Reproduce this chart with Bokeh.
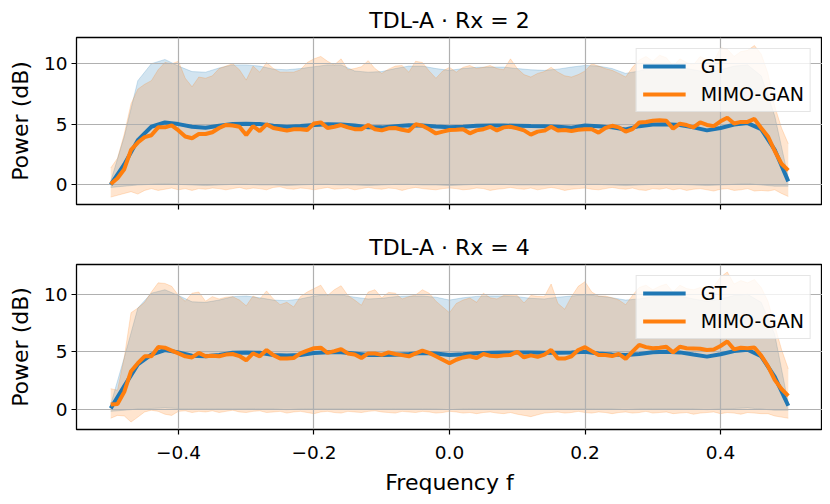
from bokeh.plotting import figure
from bokeh.layouts import column
from bokeh.models import Range1d, FixedTicker, CustomJSTickFormatter
from bokeh.embed import file_html
from bokeh.resources import INLINE

# ---------------- data ----------------
freq_fine = [round(-0.50 + 0.01 * i, 2) for i in range(101)]
freq_coarse = [round(-0.50 + 0.02 * i, 2) for i in range(51)]

titles = ["TDL-A · Rx = 2", "TDL-A · Rx = 4"]

# Rx = 2
gt_mean_rx2 = [0.03, 1.7, 3.7, 4.8, 5.16, 5.02, 4.8, 4.72, 4.88, 5.02,
               5.05, 5.02, 4.88, 4.81, 4.86, 4.95, 5.0, 4.98, 4.9, 4.76,
               4.75, 4.85, 4.92, 4.9, 4.82, 4.76, 4.8, 4.88, 4.9, 4.9,
               4.88, 4.86, 4.85, 4.8, 4.72, 4.9, 4.85, 4.75, 4.58, 4.85,
               4.98, 5.0, 4.95, 4.75, 4.5, 4.7, 4.98, 5.1, 4.6, 2.9, 0.3]
gt_upper_rx2 = [0.3, 4.0, 8.6, 10.0, 10.35, 9.8, 9.35, 9.3, 9.65, 9.9,
                9.9, 9.8, 9.55, 9.5, 9.6, 9.75, 9.9, 9.9, 9.4, 9.3,
                9.35, 9.6, 9.8, 9.8, 9.6, 9.45, 9.6, 9.7, 9.72, 9.72,
                9.6, 9.5, 9.45, 9.55, 9.72, 9.86, 9.8, 9.6, 9.2, 9.4,
                9.7, 9.8, 9.7, 9.5, 9.3, 9.5, 9.8, 9.9, 9.0, 5.7, 0.6]
gt_lower_rx2 = [-0.2, -0.1, 0.0, 0.05, 0.1, 0.05, 0.0, -0.05, 0.0, 0.05,
                0.05, 0.0, 0.0, -0.05, 0.0, 0.05, 0.05, 0.0, 0.0, -0.05,
                0.0, 0.05, 0.05, 0.0, 0.0, -0.05, 0.0, 0.05, 0.05, 0.05,
                0.0, 0.0, 0.0, 0.05, 0.0, 0.05, 0.05, 0.0, -0.05, 0.0,
                0.05, 0.05, 0.05, 0.0, -0.05, 0.0, 0.05, 0.1, 0.0, -0.1, -0.1]
gan_mean_rx2 = [0.08, 0.55, 1.3, 2.9, 3.5, 3.95, 4.1, 4.75, 4.75, 4.92,
                4.5, 4.0, 3.85, 4.2, 4.2, 4.35, 4.7, 4.95, 4.9, 4.8,
                4.12, 4.85, 4.45, 5.0, 4.7, 4.6, 4.48, 4.6, 4.6, 4.53,
                5.07, 5.16, 4.7, 4.8, 4.94, 4.75, 4.6, 4.6, 4.94, 4.6,
                4.5, 4.67, 4.7, 4.55, 4.45, 5.0, 4.89, 4.6, 4.25, 4.4,
                4.53, 4.55, 4.6, 4.26, 4.5, 4.6, 4.8, 4.5, 4.75, 4.8,
                4.67, 4.5, 4.15, 4.4, 4.48, 4.8, 4.5, 4.53, 4.45, 4.55,
                4.59, 4.59, 4.32, 4.7, 4.88, 4.75, 4.4, 4.6, 5.15, 5.2,
                5.29, 5.33, 5.3, 4.65, 5.05, 4.94, 4.75, 5.16, 4.95, 4.85,
                5.25, 5.54, 5.07, 5.2, 5.2, 5.45, 4.7, 4.0, 2.8, 1.75, 1.2]
gan_upper_rx2 = [1.4, 2.2, 4.2, 6.7, 7.9, 8.3, 8.6, 9.5, 10.1, 10.0,
                 10.2, 8.8, 8.1, 8.9, 8.8, 9.0, 9.6, 9.8, 10.0, 9.5,
                 8.65, 9.8, 9.3, 10.1, 9.6, 9.3, 9.3, 9.3, 9.5, 10.1,
                 10.4, 10.6, 10.2, 9.9, 10.4, 9.5, 9.6, 9.75, 10.25, 9.6,
                 9.2, 9.55, 9.8, 9.85, 9.3, 10.2, 10.1, 9.4, 8.8, 9.4,
                 9.7, 9.3, 9.7, 9.85, 9.6, 9.7, 9.85, 9.6, 9.5, 10.4,
                 9.6, 9.1, 8.9, 9.2, 9.35, 9.7, 9.3, 9.0, 8.9, 9.1,
                 9.4, 10.0, 9.8, 9.6, 9.45, 9.2, 8.9, 9.7, 10.3, 10.6,
                 10.2, 10.7, 10.5, 9.8, 10.4, 10.1, 9.9, 10.6, 10.3, 10.2,
                 11.3, 11.2, 10.6, 11.0, 11.1, 11.5, 10.8, 9.2, 6.5, 4.7, 3.4]
gan_lower_rx2 = [-1.0, -0.85, -0.7, -0.55, -0.75, -0.45, -0.3, -0.45, -0.35, -0.25,
                 -0.4, -0.3, -0.45, -0.3, -0.35, -0.25, -0.3, -0.4, -0.3, -0.2,
                 -0.35, -0.25, -0.3, -0.4, -0.2, -0.15, -0.3, -0.35, -0.25, -0.3,
                 -0.4, -0.3, -0.2, -0.35, -0.3, -0.25, -0.4, -0.3, -0.2, -0.3,
                 -0.35, -0.25, -0.3, -0.45, -0.3, -0.2, -0.3, -0.35, -0.4, -0.3,
                 -0.25, -0.3, -0.4, -0.35, -0.25, -0.3, -0.45, -0.35, -0.3, -0.2,
                 -0.3, -0.35, -0.25, -0.4, -0.3, -0.2, -0.3, -0.45, -0.35, -0.3,
                 -0.25, -0.35, -0.4, -0.3, -0.2, -0.3, -0.35, -0.25, -0.4, -0.45,
                 -0.3, -0.35, -0.25, -0.4, -0.3, -0.45, -0.35, -0.3, -0.4, -0.5,
                 -0.35, -0.3, -0.45, -0.4, -0.3, -0.5, -0.45, -0.5, -0.4, -0.7, -0.95]

# Rx = 4
gt_mean_rx4 = [0.06, 2.0, 3.9, 4.75, 5.15, 4.94, 4.65, 4.6, 4.72, 4.9,
               4.94, 4.9, 4.72, 4.66, 4.72, 4.88, 4.96, 4.95, 4.85, 4.72,
               4.72, 4.74, 4.8, 4.88, 4.85, 4.71, 4.78, 4.86, 4.9, 4.92,
               4.94, 4.92, 4.9, 4.9, 4.93, 5.0, 4.85, 4.76, 4.72, 4.8,
               4.95, 5.0, 4.94, 4.75, 4.57, 4.78, 5.05, 5.17, 4.6, 2.8, 0.29]
gt_upper_rx4 = [0.4, 4.5, 8.8, 10.1, 10.4, 9.9, 9.35, 9.3, 9.5, 9.8,
                9.85, 9.7, 9.5, 9.45, 9.6, 9.85, 9.97, 9.95, 9.75, 9.6,
                9.65, 9.8, 9.85, 9.85, 9.75, 9.5, 9.7, 9.82, 9.85, 9.85,
                9.8, 9.65, 9.6, 9.75, 9.85, 9.97, 9.85, 9.7, 9.5, 9.6,
                9.8, 9.9, 9.85, 9.6, 9.4, 9.6, 9.9, 10.0, 9.3, 6.5, 0.5]
gt_lower_rx4 = [-0.2, -0.1, 0.0, 0.05, 0.1, 0.05, 0.0, 0.0, 0.05, 0.05,
                0.05, 0.0, 0.0, -0.05, 0.0, 0.05, 0.05, 0.05, 0.0, 0.0,
                0.0, 0.05, 0.05, 0.05, 0.0, -0.05, 0.0, 0.05, 0.05, 0.05,
                0.05, 0.0, 0.0, 0.05, 0.05, 0.05, 0.0, 0.0, -0.05, 0.0,
                0.05, 0.05, 0.05, 0.0, -0.05, 0.0, 0.05, 0.1, 0.0, -0.1, -0.1]
gan_mean_rx4 = [0.4, 0.45, 1.5, 3.3, 4.0, 4.6, 4.6, 5.4, 5.35, 5.1,
                4.85, 4.6, 4.5, 4.9, 4.6, 4.65, 4.6, 4.75, 4.8, 4.62,
                4.25, 4.85, 4.6, 5.15, 4.7, 4.4, 4.4, 4.45, 4.85, 5.1,
                5.3, 5.35, 4.9, 5.05, 5.23, 4.85, 4.75, 4.45, 4.85, 4.85,
                4.72, 4.94, 4.8, 4.7, 4.6, 4.85, 5.09, 4.9, 4.6, 4.3,
                3.99, 4.3, 4.5, 4.6, 4.45, 4.8, 4.65, 4.6, 4.68, 4.72,
                5.0, 4.5, 4.68, 4.55, 4.75, 5.15, 4.4, 4.4, 4.6, 5.15,
                5.4, 5.05, 4.71, 4.71, 4.62, 4.8, 4.37, 5.0, 5.6, 5.4,
                5.3, 5.35, 5.43, 4.94, 5.43, 5.3, 5.29, 5.25, 5.15, 5.2,
                5.5, 5.89, 5.2, 5.35, 5.3, 5.37, 4.66, 3.75, 2.55, 1.75, 1.15]
gan_upper_rx4 = [1.78, 1.64, 4.5, 8.4, 8.8, 9.3, 10.2, 11.0, 10.95, 10.7,
                 9.9, 9.4, 10.1, 10.2, 9.4, 9.8, 9.6, 9.75, 9.8, 9.5,
                 9.0, 9.85, 9.6, 10.3, 9.6, 9.1, 9.3, 8.9, 9.8, 10.2,
                 10.5, 10.8, 9.9, 10.4, 10.75, 9.9, 9.5, 9.05, 10.2, 10.4,
                 9.7, 10.17, 10.1, 9.6, 9.8, 9.95, 10.4, 10.1, 9.4, 8.9,
                 8.4, 9.2, 9.5, 9.68, 9.3, 10.1, 9.7, 9.6, 9.9, 9.95,
                 9.9, 9.25, 9.9, 9.83, 9.8, 10.9, 9.2, 8.7, 9.8, 10.7,
                 11.1, 10.2, 9.85, 9.85, 9.7, 9.5, 9.1, 9.9, 10.6, 10.8,
                 10.4, 10.7, 10.9, 10.2, 10.8, 10.5, 10.4, 10.6, 10.4, 10.7,
                 11.5, 11.95, 10.9, 11.2, 11.0, 11.3, 10.6, 9.4, 7.3, 5.2, 3.5]
gan_lower_rx4 = [-0.8, -0.55, -0.6, -1.13, -0.7, -0.25, -0.1, -0.2, -0.45, -0.55,
                 -0.2, -0.15, -0.3, -0.2, -0.25, -0.15, -0.3, -0.2, -0.1, -0.25,
                 -0.3, -0.2, -0.15, -0.3, -0.25, -0.2, -0.35, -0.25, -0.2, -0.3,
                 -0.4, -0.25, -0.2, -0.3, -0.35, -0.2, -0.25, -0.3, -0.2, -0.15,
                 -0.25, -0.3, -0.35, -0.2, -0.25, -0.3, -0.2, -0.25, -0.35, -0.3,
                 -0.2, -0.25, -0.35, -0.3, -0.4, -0.3, -0.25, -0.35, -0.4, -0.3,
                 -0.45, -0.55, -0.66, -0.5, -0.35, -0.3, -0.25, -0.35, -0.3, -0.2,
                 -0.3, -0.35, -0.25, -0.3, -0.4, -0.3, -0.25, -0.35, -0.3, -0.2,
                 -0.35, -0.3, -0.25, -0.4, -0.35, -0.3, -0.45, -0.35, -0.3, -0.25,
                 -0.4, -0.3, -0.35, -0.45, -0.3, -0.35, -0.4, -0.4, -0.6, -0.7, -0.8]

y_ticks = [0, 5, 10]
x_ticks = [-0.4, -0.2, 0.0, 0.2, 0.4]

BLUE = "#1f77b4"
ORANGE = "#ff7f0e"
FONT = "DejaVu Sans"

x_range = Range1d(-0.5505, 0.5505)


def make_panel(title, gt_m, gt_u, gt_l, gan_m, gan_u, gan_l, yr, height,
               border_top, border_bottom, show_xlabels):
    p = figure(width=822, height=height, x_range=x_range, y_range=Range1d(*yr),
               output_backend="svg", toolbar_location=None,
               min_border_left=76, min_border_right=0,
               min_border_top=border_top, min_border_bottom=border_bottom,
               title=title)
    p.title.text_font = FONT
    p.title.text_font_size = "22px"
    p.title.text_font_style = "normal"
    p.title.align = "center"
    p.title.text_color = "black"
    p.title.standoff = 10

    # bands
    r = p.varea(x=freq_coarse, y1=gt_l, y2=gt_u, fill_color=BLUE, fill_alpha=0.2)
    r.level = "image"
    for yy in (gt_u, gt_l):
        r = p.line(freq_coarse, yy, line_color=BLUE, line_alpha=0.2, line_width=1)
        r.level = "image"
    r = p.varea(x=freq_fine, y1=gan_l, y2=gan_u, fill_color=ORANGE, fill_alpha=0.2)
    r.level = "image"
    for yy in (gan_u, gan_l):
        r = p.line(freq_fine, yy, line_color=ORANGE, line_alpha=0.2, line_width=1)
        r.level = "image"

    # mean lines
    p.line(freq_coarse, gt_m, line_color=BLUE, line_width=4, legend_label="GT")
    p.line(freq_fine, gan_m, line_color=ORANGE, line_width=4, legend_label="MIMO-GAN")

    # grid
    p.grid.grid_line_color = "#b0b0b0"
    p.grid.grid_line_width = 1.2

    # axes
    p.outline_line_color = "black"
    p.outline_line_width = 1.3
    p.outline_line_alpha = 1
    for ax in (p.xaxis[0], p.yaxis[0]):
        ax.axis_line_color = None
        ax.major_tick_line_color = "black"
        ax.major_tick_line_width = 1.2
        ax.major_tick_out = 5
        ax.major_tick_in = 0
        ax.minor_tick_line_color = None
        ax.major_label_text_font = FONT
        ax.major_label_text_font_size = "18.5px"
        ax.major_label_text_color = "black"
        ax.axis_label_text_font = FONT
        ax.axis_label_text_font_size = "22px"
        ax.axis_label_text_font_style = "normal"
        ax.axis_label_text_color = "black"
    p.yaxis.ticker = FixedTicker(ticks=y_ticks)
    p.xaxis.ticker = FixedTicker(ticks=x_ticks)
    p.yaxis.axis_label = "Power (dB)"
    p.yaxis.major_label_standoff = 4
    p.yaxis.axis_label_standoff = 8
    if show_xlabels:
        p.xaxis.formatter = CustomJSTickFormatter(
            code="return (tick < -1e-9 ? '\u2212' : '') + Math.abs(tick).toFixed(1);")
        p.xaxis.axis_label = "Frequency f"
        p.xaxis.major_label_standoff = 11
        p.xaxis.axis_label_standoff = 8
    else:
        p.xaxis.formatter = CustomJSTickFormatter(code="return '';")
        p.xaxis.major_label_text_font_size = "1px"
        p.xaxis.major_label_standoff = 0
        p.xaxis.axis_label_standoff = 0

    # legend
    lg = p.legend[0]
    lg.location = "top_right"
    lg.margin = 11
    lg.padding = 6
    lg.spacing = 6
    lg.glyph_width = 43
    lg.glyph_height = 22
    lg.label_height = 22
    lg.label_standoff = 15
    lg.label_text_font = FONT
    lg.label_text_font_size = "19px"
    lg.label_text_color = "black"
    lg.border_line_color = "#cccccc"
    lg.border_line_width = 1
    lg.background_fill_color = "white"
    lg.background_fill_alpha = 0.8
    return p


p1 = make_panel(titles[0], gt_mean_rx2, gt_upper_rx2, gt_lower_rx2,
                gan_mean_rx2, gan_upper_rx2, gan_lower_rx2,
                (-1.61, 12.16), 227, 36, 23, False)
p2 = make_panel(titles[1], gt_mean_rx4, gt_upper_rx4, gt_lower_rx4,
                gan_mean_rx4, gan_upper_rx4, gan_lower_rx4,
                (-1.78, 12.6), 274, 35, 72, True)

layout = column(p1, p2, spacing=0)
open("out.html", "w").write(file_html(layout, INLINE))
